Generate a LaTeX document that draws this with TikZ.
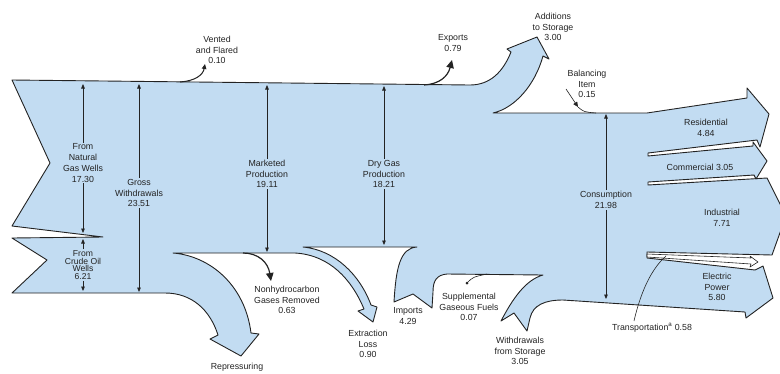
\documentclass[tikz,border=0pt]{standalone}
\usepackage{fontspec}
\setmainfont{Liberation Sans}
\usetikzlibrary{arrows.meta}
\definecolor{flowblue}{RGB}{194,220,242}
\definecolor{inkgray}{RGB}{35,35,35}
\tikzset{
  flow/.style={fill=flowblue, draw=inkgray, line width=0.9pt, line join=round},
  lbl/.style={align=center, font=\fontsize{8.8}{10.8}\selectfont, text=inkgray, inner sep=1pt},
  measure/.style={draw=inkgray, line width=0.8pt, -{Triangle[length=4.5pt,width=3.6pt]}},
  thinflow/.style={draw=inkgray, line width=1.2pt, -{Triangle[length=8pt,width=7.5pt]}},
  smallflow/.style={draw=inkgray, line width=1pt, -{Triangle[length=5pt,width=4.5pt]}},
  leader/.style={draw=inkgray, line width=0.6pt},
  hollow/.style={fill=white, draw=inkgray, line width=0.6pt, line join=round},
}
\begin{document}
\begin{tikzpicture}[x=1pt,y=-1pt]
\useasboundingbox (0,0) rectangle (780,373);
\begin{scope}
\clip (0,0) rectangle (780,373);
% main flow body
\draw[flow] (12,80) -- (470,85)
  .. controls (490,85) and (503,72) .. (511,52) -- (507,49) -- (537,37) -- (549,59) -- (543,56)
  .. controls (535,85) and (515,108) .. (493,113)
  -- (647,113) -- (747,98) -- (747,88) -- (769,114) -- (760,147) -- (757,140) -- (648,153)
  -- (648,156) -- (753,146) -- (753,142) -- (767,161) -- (756,179) -- (754,175) -- (648,182)
  -- (648,185) -- (767,178) -- (786,216) -- (772,255) -- (647,252)
  -- (647,258) -- (755,270) -- (763,266) -- (773,298) -- (746,318) -- (745,312) -- (563,300)
  .. controls (545,300) and (533,305) .. (530,318) -- (527,331) -- (514,313) -- (501,321)
  .. controls (512,300) and (525,280) .. (543,275)
  -- (447,274) .. controls (437,275) and (433,280) .. (433,292) -- (432,308) -- (413,294) -- (394,302)
  .. controls (396,268) and (400,248) .. (417,247)
  -- (303,247) .. controls (335,250) and (360,275) .. (371,305) -- (377,307) -- (373,322) -- (358,311) -- (364,309)
  .. controls (352,280) and (330,255) .. (295,253)
  -- (173,253) .. controls (210,256) and (245,285) .. (251,333) -- (259,334) -- (241,356) -- (210,339) -- (218,335)
  .. controls (210,310) and (192,293) .. (165,293)
  -- (12,293) -- (47,260) -- (12,238) -- (103,237) -- (12,226) -- (50,163) -- cycle;
% transportation (hollow) arrow
\draw[hollow] (647,254) -- (751,258) -- (750,256) -- (758,262) -- (750,267) -- (751,264) -- (647,257) -- cycle;
\end{scope}

% labels on vertical measures
\node[lbl] (natural) at (83,163) {From\\Natural\\Gas Wells\\17.30};
\coordinate (naturalTop) at (83,84);
\coordinate (naturalBot) at (83,233);
\draw[measure] (natural.north) -- (naturalTop);
\draw[measure] (natural.south) -- (naturalBot);

\node[lbl, font=\fontsize{8.6}{7.8}\selectfont] (crude) at (83,265) {From\\Crude Oil\\Wells\\6.21};
\coordinate (crudeTop) at (83,239);
\coordinate (crudeBot) at (83,291);
\draw[measure] (crude.north) -- (crudeTop);
\draw[measure] (crude.south) -- (crudeBot);

\node[lbl] (gross) at (139,193) {Gross\\Withdrawals\\23.51};
\coordinate (grossTop) at (139,84);
\coordinate (grossBot) at (139,292);
\draw[measure] (gross.north) -- (grossTop);
\draw[measure] (gross.south) -- (grossBot);

\node[lbl] (marketed) at (267,174) {Marketed\\Production\\19.11};
\coordinate (marketedTop) at (267,85);
\coordinate (marketedBot) at (267,252);
\draw[measure] (marketed.north) -- (marketedTop);
\draw[measure] (marketed.south) -- (marketedBot);

\node[lbl] (dry) at (384,174) {Dry Gas\\Production\\18.21};
\coordinate (dryTop) at (384,86);
\coordinate (dryBot) at (384,245);
\draw[measure] (dry.north) -- (dryTop);
\draw[measure] (dry.south) -- (dryBot);

\node[lbl] (consumption) at (606,200) {Consumption\\21.98};
\coordinate (consTop) at (606,114);
\coordinate (consBot) at (606,299);
\draw[measure] (consumption.north) -- (consTop);
\draw[measure] (consumption.south) -- (consBot);

% other labels
\node[lbl] (vented) at (217,50) {Vented\\and Flared\\0.10};
\node[lbl] (exports) at (453,43) {Exports\\0.79};
\node[lbl] (additions) at (553,27) {Additions\\to Storage\\3.00};
\node[lbl] (balancing) at (587,84) {Balancing\\Item\\0.15};
\node[lbl] (residential) at (706,128) {Residential\\4.84};
\node[lbl] (commercial) at (700,167) {Commercial 3.05};
\node[lbl] (industrial) at (722,218) {Industrial\\7.71};
\node[lbl] (electric) at (717,287) {Electric\\Power\\5.80};
\node[lbl] (transport) at (652,328) {Transportation\textsuperscript{a} 0.58};
\node[lbl] (withdrawals) at (520,351) {Withdrawals\\from Storage\\3.05};
\node[lbl] (supplemental) at (469,307) {Supplemental\\Gaseous Fuels\\0.07};
\node[lbl] (imports) at (408,316) {Imports\\4.29};
\node[lbl] (extraction) at (368,344) {Extraction\\Loss\\0.90};
\node[lbl] (nonhydro) at (287,300) {Nonhydrocarbon\\Gases Removed\\0.63};
\node[lbl] (repress) at (237,367) {Repressuring};

% thin flows
\coordinate (ventStart) at (180,82);
\coordinate (ventTip) at (205,64);
\draw[smallflow] (ventStart) .. controls (195,81) and (203,75) .. (ventTip);
\coordinate (exportStart) at (424,85);
\coordinate (exportTip) at (452,60);
\draw[thinflow] (exportStart) .. controls (440,84) and (448,76) .. (exportTip);
\coordinate (nonhydroStart) at (243,253);
\coordinate (nonhydroTip) at (271,281);
\draw[thinflow] (nonhydroStart) .. controls (258,253) and (268,262) .. (nonhydroTip);
\coordinate (balTail) at (566,89);
\coordinate (balHead) at (578,107);
\coordinate (balJoin) at (596,113);
\draw[leader, -{Triangle[length=5pt,width=4.5pt]}] (balTail) -- (balHead);
\draw[leader] (balHead) .. controls (584,112) .. (balJoin);
\coordinate (suppDot) at (467,283);
\coordinate (suppJoin) at (487,274);
\draw[leader] (suppDot) .. controls (473,277) .. (suppJoin);
\fill[inkgray] (suppDot) circle (1.5pt);
\coordinate (transStart) at (666,256);
\coordinate (transEnd) at (634,321);
\draw[leader] (transStart) .. controls (650,270) and (640,295) .. (transEnd);
\end{tikzpicture}
\end{document}
